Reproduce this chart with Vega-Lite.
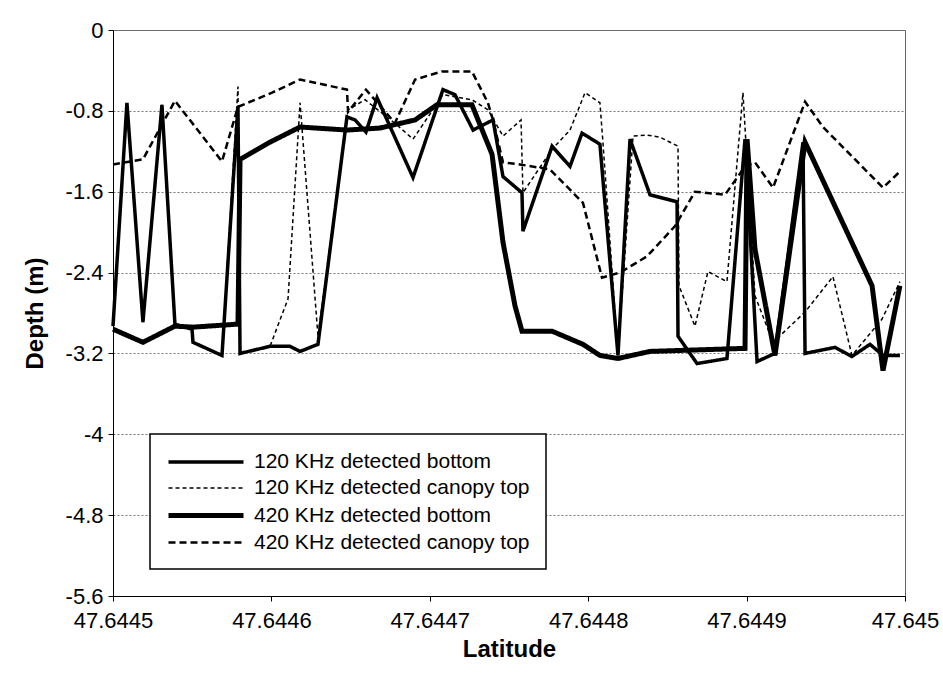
{
  "$schema": "https://vega.github.io/schema/vega-lite/v6.json",
  "width": 792,
  "height": 566,
  "autosize": {"type": "none"},
  "padding": {"left": 113, "top": 30, "right": 38, "bottom": 77},
  "background": "white",
  "config": {
    "font": "Liberation Sans",
    "view": {"stroke": "#666", "strokeWidth": 1},
    "axis": {
      "labelFont": "Liberation Sans",
      "labelFontSize": 22,
      "labelColor": "black",
      "titleFont": "Liberation Sans",
      "titleColor": "black",
      "titleFontSize": 24,
      "titleFontWeight": "bold",
      "domainColor": "black",
      "tickColor": "black",
      "tickSize": 5
    },
    "legend": {
      "orient": "none",
      "legendX": 37,
      "legendY": 404,
      "symbolType": "M-1,0H6.5",
      "symbolSize": 400,
      "symbolStrokeColor": "black",
      "labelFont": "Liberation Sans",
      "labelFontSize": 21,
      "labelColor": "black",
      "labelLimit": 500,
      "labelOffset": 63,
      "rowPadding": 5,
      "padding": 16,
      "strokeColor": "black",
      "strokeWidth": 1.5,
      "fillColor": "white"
    }
  },
  "data": {
    "values": [
      {"s": "120 KHz detected bottom", "lat": 47.6445000, "depth": -2.93},
      {"s": "120 KHz detected bottom", "lat": 47.6445088, "depth": -0.72},
      {"s": "120 KHz detected bottom", "lat": 47.6445189, "depth": -2.89},
      {"s": "120 KHz detected bottom", "lat": 47.6445309, "depth": -0.74},
      {"s": "120 KHz detected bottom", "lat": 47.6445391, "depth": -2.91},
      {"s": "120 KHz detected bottom", "lat": 47.6445499, "depth": -2.96},
      {"s": "120 KHz detected bottom", "lat": 47.6445505, "depth": -3.09},
      {"s": "120 KHz detected bottom", "lat": 47.6445688, "depth": -3.22},
      {"s": "120 KHz detected bottom", "lat": 47.6445789, "depth": -0.76},
      {"s": "120 KHz detected bottom", "lat": 47.6445802, "depth": -3.20},
      {"s": "120 KHz detected bottom", "lat": 47.6445991, "depth": -3.13},
      {"s": "120 KHz detected bottom", "lat": 47.6446117, "depth": -3.13},
      {"s": "120 KHz detected bottom", "lat": 47.6446181, "depth": -3.18},
      {"s": "120 KHz detected bottom", "lat": 47.6446294, "depth": -3.11},
      {"s": "120 KHz detected bottom", "lat": 47.6446477, "depth": -0.86},
      {"s": "120 KHz detected bottom", "lat": 47.6446528, "depth": -0.89},
      {"s": "120 KHz detected bottom", "lat": 47.6446597, "depth": -1.01},
      {"s": "120 KHz detected bottom", "lat": 47.6446667, "depth": -0.67},
      {"s": "120 KHz detected bottom", "lat": 47.6446894, "depth": -1.46},
      {"s": "120 KHz detected bottom", "lat": 47.6447083, "depth": -0.59},
      {"s": "120 KHz detected bottom", "lat": 47.6447159, "depth": -0.64},
      {"s": "120 KHz detected bottom", "lat": 47.6447273, "depth": -0.99},
      {"s": "120 KHz detected bottom", "lat": 47.6447399, "depth": -0.89},
      {"s": "120 KHz detected bottom", "lat": 47.6447462, "depth": -1.45},
      {"s": "120 KHz detected bottom", "lat": 47.6447582, "depth": -1.61},
      {"s": "120 KHz detected bottom", "lat": 47.6447588, "depth": -1.99},
      {"s": "120 KHz detected bottom", "lat": 47.6447772, "depth": -1.15},
      {"s": "120 KHz detected bottom", "lat": 47.6447885, "depth": -1.35},
      {"s": "120 KHz detected bottom", "lat": 47.6447961, "depth": -1.02},
      {"s": "120 KHz detected bottom", "lat": 47.6448074, "depth": -1.13},
      {"s": "120 KHz detected bottom", "lat": 47.6448188, "depth": -3.22},
      {"s": "120 KHz detected bottom", "lat": 47.6448264, "depth": -1.08},
      {"s": "120 KHz detected bottom", "lat": 47.6448390, "depth": -1.63},
      {"s": "120 KHz detected bottom", "lat": 47.6448561, "depth": -1.70},
      {"s": "120 KHz detected bottom", "lat": 47.6448567, "depth": -3.03},
      {"s": "120 KHz detected bottom", "lat": 47.6448687, "depth": -3.30},
      {"s": "120 KHz detected bottom", "lat": 47.6448876, "depth": -3.25},
      {"s": "120 KHz detected bottom", "lat": 47.6448990, "depth": -1.08},
      {"s": "120 KHz detected bottom", "lat": 47.6449066, "depth": -3.28},
      {"s": "120 KHz detected bottom", "lat": 47.6449179, "depth": -3.20},
      {"s": "120 KHz detected bottom", "lat": 47.6449356, "depth": -1.11},
      {"s": "120 KHz detected bottom", "lat": 47.6449369, "depth": -3.20},
      {"s": "120 KHz detected bottom", "lat": 47.6449558, "depth": -3.14},
      {"s": "120 KHz detected bottom", "lat": 47.6449665, "depth": -3.23},
      {"s": "120 KHz detected bottom", "lat": 47.6449779, "depth": -3.11},
      {"s": "120 KHz detected bottom", "lat": 47.6449861, "depth": -3.22},
      {"s": "120 KHz detected bottom", "lat": 47.6449968, "depth": -3.22},

      {"s": "120 KHz detected canopy top", "lat": 47.6445000, "depth": -2.93},
      {"s": "120 KHz detected canopy top", "lat": 47.6445088, "depth": -0.72},
      {"s": "120 KHz detected canopy top", "lat": 47.6445189, "depth": -2.89},
      {"s": "120 KHz detected canopy top", "lat": 47.6445309, "depth": -0.74},
      {"s": "120 KHz detected canopy top", "lat": 47.6445391, "depth": -2.91},
      {"s": "120 KHz detected canopy top", "lat": 47.6445499, "depth": -2.96},
      {"s": "120 KHz detected canopy top", "lat": 47.6445505, "depth": -3.09},
      {"s": "120 KHz detected canopy top", "lat": 47.6445688, "depth": -3.22},
      {"s": "120 KHz detected canopy top", "lat": 47.6445789, "depth": -0.56},
      {"s": "120 KHz detected canopy top", "lat": 47.6445802, "depth": -3.20},
      {"s": "120 KHz detected canopy top", "lat": 47.6445991, "depth": -3.13},
      {"s": "120 KHz detected canopy top", "lat": 47.6446105, "depth": -2.66},
      {"s": "120 KHz detected canopy top", "lat": 47.6446181, "depth": -0.72},
      {"s": "120 KHz detected canopy top", "lat": 47.6446294, "depth": -3.03},
      {"s": "120 KHz detected canopy top", "lat": 47.6446484, "depth": -0.79},
      {"s": "120 KHz detected canopy top", "lat": 47.6446591, "depth": -0.69},
      {"s": "120 KHz detected canopy top", "lat": 47.6446793, "depth": -0.94},
      {"s": "120 KHz detected canopy top", "lat": 47.6446894, "depth": -1.08},
      {"s": "120 KHz detected canopy top", "lat": 47.6446989, "depth": -0.86},
      {"s": "120 KHz detected canopy top", "lat": 47.6447083, "depth": -0.64},
      {"s": "120 KHz detected canopy top", "lat": 47.6447266, "depth": -0.69},
      {"s": "120 KHz detected canopy top", "lat": 47.6447367, "depth": -0.79},
      {"s": "120 KHz detected canopy top", "lat": 47.6447462, "depth": -1.05},
      {"s": "120 KHz detected canopy top", "lat": 47.6447576, "depth": -0.89},
      {"s": "120 KHz detected canopy top", "lat": 47.6447588, "depth": -1.61},
      {"s": "120 KHz detected canopy top", "lat": 47.6447772, "depth": -1.18},
      {"s": "120 KHz detected canopy top", "lat": 47.6447885, "depth": -0.99},
      {"s": "120 KHz detected canopy top", "lat": 47.6447980, "depth": -0.62},
      {"s": "120 KHz detected canopy top", "lat": 47.6448074, "depth": -0.72},
      {"s": "120 KHz detected canopy top", "lat": 47.6448093, "depth": -1.11},
      {"s": "120 KHz detected canopy top", "lat": 47.6448188, "depth": -3.22},
      {"s": "120 KHz detected canopy top", "lat": 47.6448283, "depth": -1.05},
      {"s": "120 KHz detected canopy top", "lat": 47.6448371, "depth": -1.04},
      {"s": "120 KHz detected canopy top", "lat": 47.6448453, "depth": -1.06},
      {"s": "120 KHz detected canopy top", "lat": 47.6448567, "depth": -1.15},
      {"s": "120 KHz detected canopy top", "lat": 47.6448573, "depth": -2.53},
      {"s": "120 KHz detected canopy top", "lat": 47.6448674, "depth": -2.93},
      {"s": "120 KHz detected canopy top", "lat": 47.6448756, "depth": -2.39},
      {"s": "120 KHz detected canopy top", "lat": 47.6448876, "depth": -2.49},
      {"s": "120 KHz detected canopy top", "lat": 47.6448977, "depth": -0.62},
      {"s": "120 KHz detected canopy top", "lat": 47.6449053, "depth": -2.63},
      {"s": "120 KHz detected canopy top", "lat": 47.6449167, "depth": -3.09},
      {"s": "120 KHz detected canopy top", "lat": 47.6449369, "depth": -2.79},
      {"s": "120 KHz detected canopy top", "lat": 47.6449545, "depth": -2.44},
      {"s": "120 KHz detected canopy top", "lat": 47.6449665, "depth": -3.22},
      {"s": "120 KHz detected canopy top", "lat": 47.6449855, "depth": -2.86},
      {"s": "120 KHz detected canopy top", "lat": 47.6449968, "depth": -2.49},

      {"s": "420 KHz detected bottom", "lat": 47.6445000, "depth": -2.96},
      {"s": "420 KHz detected bottom", "lat": 47.6445189, "depth": -3.09},
      {"s": "420 KHz detected bottom", "lat": 47.6445391, "depth": -2.93},
      {"s": "420 KHz detected bottom", "lat": 47.6445505, "depth": -2.94},
      {"s": "420 KHz detected bottom", "lat": 47.6445789, "depth": -2.91},
      {"s": "420 KHz detected bottom", "lat": 47.6445802, "depth": -1.28},
      {"s": "420 KHz detected bottom", "lat": 47.6445991, "depth": -1.11},
      {"s": "420 KHz detected bottom", "lat": 47.6446181, "depth": -0.96},
      {"s": "420 KHz detected bottom", "lat": 47.6446477, "depth": -0.99},
      {"s": "420 KHz detected bottom", "lat": 47.6446686, "depth": -0.97},
      {"s": "420 KHz detected bottom", "lat": 47.6446907, "depth": -0.89},
      {"s": "420 KHz detected bottom", "lat": 47.6447045, "depth": -0.74},
      {"s": "420 KHz detected bottom", "lat": 47.6447266, "depth": -0.74},
      {"s": "420 KHz detected bottom", "lat": 47.6447393, "depth": -1.23},
      {"s": "420 KHz detected bottom", "lat": 47.6447462, "depth": -2.10},
      {"s": "420 KHz detected bottom", "lat": 47.6447538, "depth": -2.73},
      {"s": "420 KHz detected bottom", "lat": 47.6447582, "depth": -2.98},
      {"s": "420 KHz detected bottom", "lat": 47.6447772, "depth": -2.98},
      {"s": "420 KHz detected bottom", "lat": 47.6447967, "depth": -3.11},
      {"s": "420 KHz detected bottom", "lat": 47.6448074, "depth": -3.22},
      {"s": "420 KHz detected bottom", "lat": 47.6448188, "depth": -3.25},
      {"s": "420 KHz detected bottom", "lat": 47.6448390, "depth": -3.18},
      {"s": "420 KHz detected bottom", "lat": 47.6448990, "depth": -3.15},
      {"s": "420 KHz detected bottom", "lat": 47.6449003, "depth": -1.08},
      {"s": "420 KHz detected bottom", "lat": 47.6449053, "depth": -2.17},
      {"s": "420 KHz detected bottom", "lat": 47.6449179, "depth": -3.22},
      {"s": "420 KHz detected bottom", "lat": 47.6449369, "depth": -1.11},
      {"s": "420 KHz detected bottom", "lat": 47.6449792, "depth": -2.53},
      {"s": "420 KHz detected bottom", "lat": 47.6449861, "depth": -3.37},
      {"s": "420 KHz detected bottom", "lat": 47.6449968, "depth": -2.53},

      {"s": "420 KHz detected canopy top", "lat": 47.6445000, "depth": -1.33},
      {"s": "420 KHz detected canopy top", "lat": 47.6445189, "depth": -1.28},
      {"s": "420 KHz detected canopy top", "lat": 47.6445391, "depth": -0.70},
      {"s": "420 KHz detected canopy top", "lat": 47.6445688, "depth": -1.30},
      {"s": "420 KHz detected canopy top", "lat": 47.6445789, "depth": -0.76},
      {"s": "420 KHz detected canopy top", "lat": 47.6446004, "depth": -0.62},
      {"s": "420 KHz detected canopy top", "lat": 47.6446181, "depth": -0.49},
      {"s": "420 KHz detected canopy top", "lat": 47.6446477, "depth": -0.59},
      {"s": "420 KHz detected canopy top", "lat": 47.6446484, "depth": -0.81},
      {"s": "420 KHz detected canopy top", "lat": 47.6446597, "depth": -0.59},
      {"s": "420 KHz detected canopy top", "lat": 47.6446780, "depth": -0.92},
      {"s": "420 KHz detected canopy top", "lat": 47.6446907, "depth": -0.49},
      {"s": "420 KHz detected canopy top", "lat": 47.6447077, "depth": -0.41},
      {"s": "420 KHz detected canopy top", "lat": 47.6447266, "depth": -0.41},
      {"s": "420 KHz detected canopy top", "lat": 47.6447367, "depth": -0.72},
      {"s": "420 KHz detected canopy top", "lat": 47.6447399, "depth": -0.89},
      {"s": "420 KHz detected canopy top", "lat": 47.6447462, "depth": -1.31},
      {"s": "420 KHz detected canopy top", "lat": 47.6447569, "depth": -1.33},
      {"s": "420 KHz detected canopy top", "lat": 47.6447759, "depth": -1.38},
      {"s": "420 KHz detected canopy top", "lat": 47.6447967, "depth": -1.71},
      {"s": "420 KHz detected canopy top", "lat": 47.6448087, "depth": -2.45},
      {"s": "420 KHz detected canopy top", "lat": 47.6448201, "depth": -2.40},
      {"s": "420 KHz detected canopy top", "lat": 47.6448371, "depth": -2.24},
      {"s": "420 KHz detected canopy top", "lat": 47.6448548, "depth": -1.94},
      {"s": "420 KHz detected canopy top", "lat": 47.6448674, "depth": -1.60},
      {"s": "420 KHz detected canopy top", "lat": 47.6448864, "depth": -1.63},
      {"s": "420 KHz detected canopy top", "lat": 47.6448990, "depth": -1.35},
      {"s": "420 KHz detected canopy top", "lat": 47.6449053, "depth": -1.31},
      {"s": "420 KHz detected canopy top", "lat": 47.6449167, "depth": -1.56},
      {"s": "420 KHz detected canopy top", "lat": 47.6449369, "depth": -0.71},
      {"s": "420 KHz detected canopy top", "lat": 47.6449482, "depth": -0.96},
      {"s": "420 KHz detected canopy top", "lat": 47.6449861, "depth": -1.56},
      {"s": "420 KHz detected canopy top", "lat": 47.6449968, "depth": -1.40}
    ]
  },
  "mark": {"type": "line", "color": "black", "strokeCap": "butt", "strokeJoin": "miter"},
  "encoding": {
    "x": {
      "field": "lat",
      "type": "quantitative",
      "scale": {"domain": [47.6445, 47.645], "nice": false, "zero": false},
      "axis": {
        "title": "Latitude",
        "values": [47.6445, 47.6446, 47.6447, 47.6448, 47.6449, 47.645],
        "labelExpr": "toString(datum.value)",
        "grid": false,
        "labelFlush": false,
        "labelPadding": 9,
        "titlePadding": 6
      }
    },
    "y": {
      "field": "depth",
      "type": "quantitative",
      "scale": {"domain": [-5.6, 0], "nice": false, "zero": false},
      "axis": {
        "title": "Depth (m)",
        "values": [0, -0.8, -1.6, -2.4, -3.2, -4, -4.8, -5.6],
        "labelExpr": "toString(datum.value)",
        "grid": true,
        "gridDash": [2, 2],
        "gridColor": "#777",
        "labelPadding": 5,
        "titlePadding": 18
      }
    },
    "strokeDash": {
      "field": "s",
      "type": "nominal",
      "scale": {
        "domain": ["120 KHz detected bottom", "120 KHz detected canopy top", "420 KHz detected bottom", "420 KHz detected canopy top"],
        "range": [[1, 0], [4, 3], [1, 0], [7, 4]]
      },
      "legend": {"title": null}
    },
    "strokeWidth": {
      "field": "s",
      "type": "nominal",
      "scale": {
        "type": "ordinal",
        "domain": ["120 KHz detected bottom", "120 KHz detected canopy top", "420 KHz detected bottom", "420 KHz detected canopy top"],
        "range": [3.5, 1.5, 5, 2.5]
      },
      "legend": {"title": null}
    }
  }
}
